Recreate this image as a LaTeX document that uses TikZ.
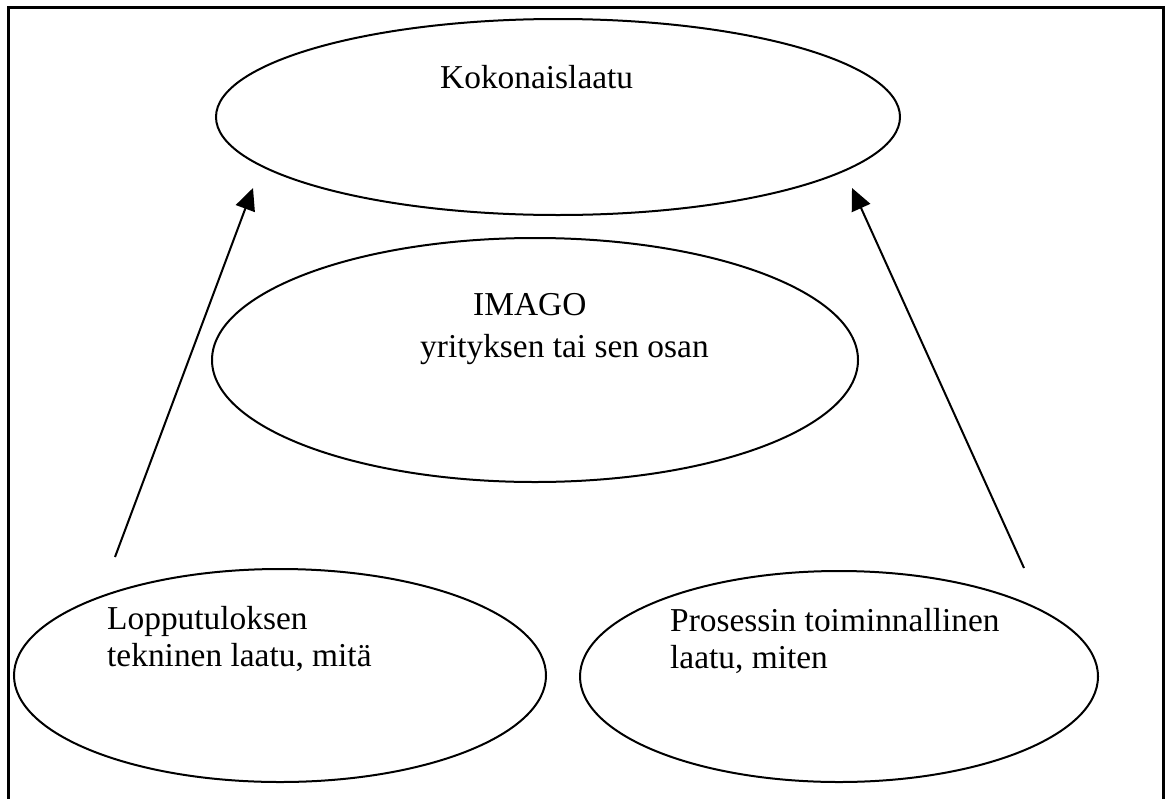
\documentclass[tikz,border=0pt]{standalone}
\usepackage{fontspec}
\setmainfont{Liberation Serif}
\usetikzlibrary{arrows.meta,shapes.geometric}
\tikzset{
  oval/.style={draw, ellipse, line width=2pt, inner sep=0pt},
  lbl/.style={anchor=base west, inner sep=0pt, font=\fontsize{33.4}{37.5}\selectfont},
  arr/.style={line width=2pt, -{Triangle[length=22pt,width=20pt]}},
  frame/.style={line width=3pt}
}
\begin{document}
\begin{tikzpicture}[x=1pt,y=-1pt]
\useasboundingbox (0,0) rectangle (1169,798);
\draw[frame] (8.5,800) -- (8.5,7.5) -- (1163.5,7.5) -- (1163.5,800);
% ellipses
\node[oval, minimum width=684pt, minimum height=196pt] (top) at (558,117) {};
\node[oval, minimum width=646pt, minimum height=244pt] (mid) at (535,360) {};
\node[oval, minimum width=532pt, minimum height=213pt] (bl) at (280,675.5) {};
\node[oval, minimum width=518pt, minimum height=211pt] (br) at (839,676.5) {};
% texts
\node[lbl] (t1) at (440,88) {Kokonaislaatu};
\node[lbl] (t2) at (473,315) {IMAGO};
\node[lbl] (t3) at (420,357) {yrityksen tai sen osan};
\node[lbl] (t4a) at (107,629) {Lopputuloksen};
\node[lbl] (t4b) at (107,666) {tekninen laatu, mitä};
\node[lbl] (t5a) at (670,631) {Prosessin toiminnallinen};
\node[lbl] (t5b) at (670,668) {laatu, miten};
% arrows
\coordinate (a1s) at (115,557);
\coordinate (a1e) at (253,188);
\coordinate (a2s) at (1024,568);
\coordinate (a2e) at (852,188);
\draw[arr] (a1s) -- (a1e);
\draw[arr] (a2s) -- (a2e);
\end{tikzpicture}
\end{document}
